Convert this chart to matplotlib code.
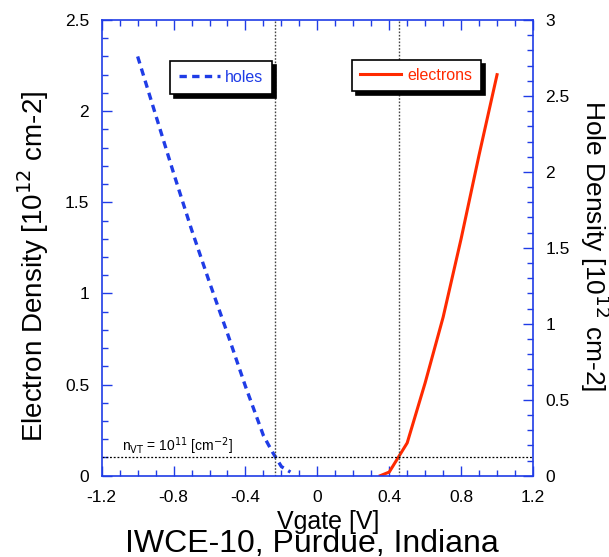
import matplotlib.pyplot as plt
from matplotlib.ticker import MultipleLocator

plt.rcParams['font.family'] = ['Liberation Sans', 'DejaVu Sans']

# hole density vs gate voltage [1e12 cm^-2]
vg_holes = [-1.0, -0.9, -0.8, -0.7, -0.6, -0.5, -0.4, -0.3, -0.25, -0.2, -0.15]
n_holes = [2.30, 1.98, 1.66, 1.35, 1.06, 0.78, 0.49, 0.22, 0.13, 0.05, 0.02]

# electron density vs gate voltage [1e12 cm^-2]
vg_elec = [0.35, 0.4, 0.5, 0.6, 0.7, 0.8, 0.9, 1.0]
n_elec = [0.0, 0.02, 0.18, 0.51, 0.87, 1.30, 1.76, 2.20]

n_vt = 0.1          # threshold density 1e11 cm^-2
vt_holes = -0.236   # where holes reach n_vt
vt_elec = 0.453     # where electrons reach n_vt

blue = '#1f3ce6'
red = '#ff2a00'

fig = plt.figure(figsize=(6.09, 5.57), dpi=100)
ax = fig.add_axes([101.7/609, 1-475.7/557, 431.3/609, 455.7/557])

l_h, = ax.plot(vg_holes, n_holes, color=blue, lw=2.4, ls=(0, (2.2, 1.6)), label='holes')
l_e, = ax.plot(vg_elec, n_elec, color=red, lw=2.2, label='electrons')

ax.axhline(n_vt, color='black', lw=0.9, ls=(0, (1.5, 1.5)))
ax.axvline(vt_holes, color='#444444', lw=1.0, ls=(0, (1.2, 1.2)))
ax.axvline(vt_elec, color='#444444', lw=1.0, ls=(0, (1.2, 1.2)))

ax.set_xlim(-1.2, 1.2)
ax.set_ylim(0, 2.5)
ax.xaxis.set_minor_locator(MultipleLocator(0.1))
ax.yaxis.set_minor_locator(MultipleLocator(0.1))
ax.set_xticks([-1.2, -0.8, -0.4, 0, 0.4, 0.8, 1.2])
ax.set_xticklabels(['-1.2', '-0.8', '-0.4', '0', '0.4', '0.8', '1.2'])
ax.set_yticks([0, 0.5, 1, 1.5, 2, 2.5])
ax.set_yticklabels(['0', '0.5', '1', '1.5', '2', '2.5'])
ax.tick_params(which='both', direction='in', top=True, right=False,
               color=blue, width=1.0, labelsize=12.5)
ax.tick_params(axis='x', which='major', pad=10)
ax.tick_params(axis='y', which='major', pad=9)
ax.tick_params(which='major', length=7)
ax.tick_params(which='minor', length=4.5)
for s in ax.spines.values():
    s.set_color(blue)
    s.set_linewidth(1.2)

# right axis for hole density
ax2 = ax.twinx()
ax2.set_ylim(0, 3)
ax2.yaxis.set_minor_locator(MultipleLocator(0.1))
ax2.set_yticks([0, 0.5, 1, 1.5, 2, 2.5, 3])
ax2.set_yticklabels(['0', '0.5', '1', '1.5', '2', '2.5', '3'])
ax2.tick_params(which='both', direction='in', color=blue, width=1.0,
                labelsize=12.5, pad=9)
ax2.tick_params(which='major', length=7)
ax2.tick_params(which='minor', length=4.5)
for s in ax2.spines.values():
    s.set_visible(False)

ax.text(-1.087, 0.135, r'n$_{\mathrm{VT}}$ = 10$^{11}$ [cm$^{-2}$]', fontsize=10)

shadow = {'color': 'black', 'alpha': 1.0, 'ox': 3, 'oy': -3}
leg1 = ax.legend(handles=[l_h], loc='upper left', bbox_to_anchor=(0.158, 0.91),
                 borderaxespad=0, fancybox=False, shadow=shadow, edgecolor='black',
                 framealpha=1, fontsize=11.5, handlelength=2.6, handletextpad=0.3,
                 borderpad=0.55, labelcolor=blue)
leg1.get_frame().set_linewidth(1.2)
ax.add_artist(leg1)
leg2 = ax.legend(handles=[l_e], loc='upper left', bbox_to_anchor=(0.58, 0.912),
                 borderaxespad=0, fancybox=False, shadow=shadow, edgecolor='black',
                 framealpha=1, fontsize=11.5, handlelength=2.6, handletextpad=0.4,
                 borderpad=0.5, labelcolor=red)
leg2.get_frame().set_linewidth(1.2)

fig.text(33/609, 1-266/557, 'Electron Density [10$^{12}$ cm-2]', rotation=90,
         ha='center', va='center', fontsize=20)
fig.text(595/609, 1-246/557, 'Hole Density [10$^{12}$ cm-2]', rotation=270,
         ha='center', va='center', fontsize=19)
fig.text(328/609, 1-522/557, 'Vgate [V]', ha='center', va='center', fontsize=18)
fig.text(312/609, 1-544/557, 'IWCE-10, Purdue, Indiana', ha='center', va='center',
         fontsize=23)

fig.savefig('out.png', dpi=100)
